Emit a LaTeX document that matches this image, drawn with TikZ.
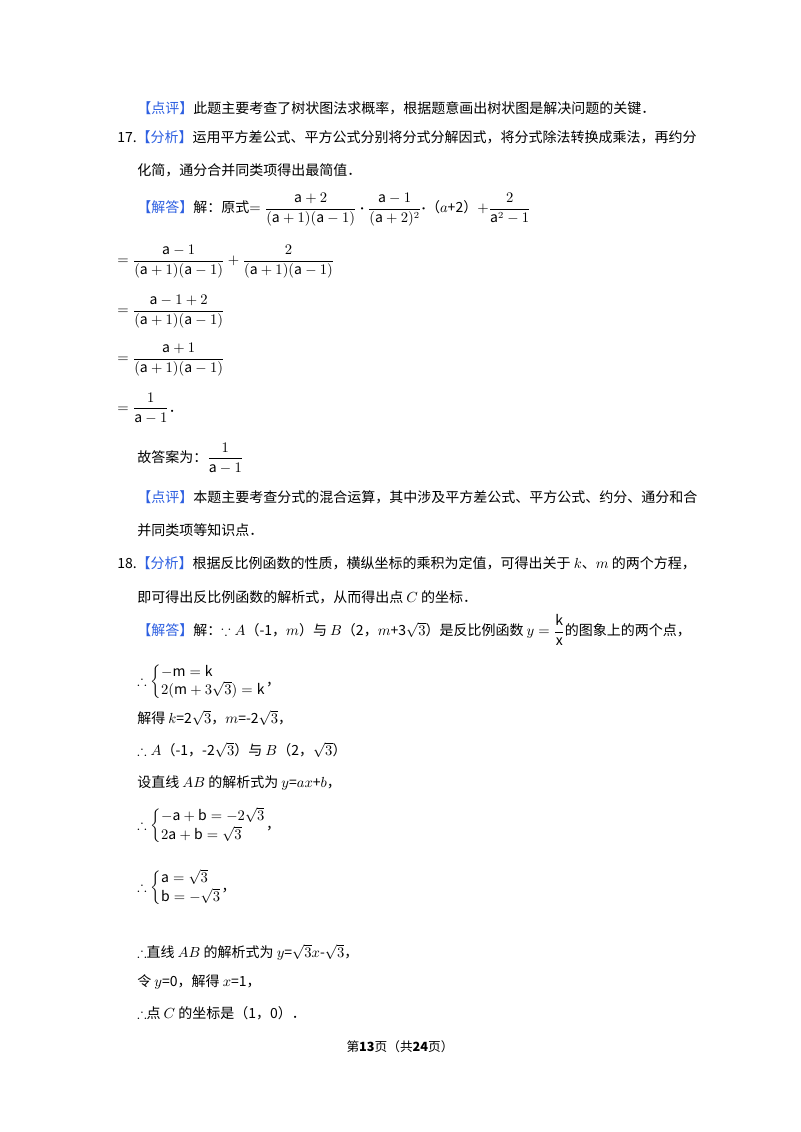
\documentclass[tikz,border=0pt]{standalone}
\usepackage{amsmath,amssymb}
\usepackage{fontspec}
\setmainfont{Noto Sans CJK SC}
\definecolor{kb}{RGB}{45,95,225}
\newcommand{\tg}[1]{\textcolor{kb}{【#1】}}
\newcommand{\ma}{\mathrm{a}}
\newcommand{\sys}[2]{\left\{\begin{array}{@{}l@{}}#1\\ #2\end{array}\right.}
\begin{document}
\begin{tikzpicture}[x=0.75pt,y=-0.75pt,
  ln/.style={anchor=west,inner sep=0pt,font=\fontsize{10.5}{13}\selectfont}]
\useasboundingbox[fill=white] (0,0) rectangle (800,1132);
\node[ln] (l1) at (137,108) {\tg{点评}此题主要考查了树状图法求概率，根据题意画出树状图是解决问题的关键．};
\node[ln] (l2) at (117,137) {17.\tg{分析}运用平方差公式、平方公式分别将分式分解因式，将分式除法转换成乘法，再约分};
\node[ln] (l3) at (137,170) {化简，通分合并同类项得出最简值．};
\node[ln] (l4) at (137,210) {\tg{解答}解：原式$=\dfrac{\ma+2}{(\ma+1)(\ma-1)}\boldsymbol{\cdot}\dfrac{\ma-1}{(\ma+2)^2}\boldsymbol{\cdot}$（$a$+2）$+\dfrac{2}{\ma^2-1}$};
\node[ln] (l5) at (117,262) {$=\dfrac{\ma-1}{(\ma+1)(\ma-1)}+\dfrac{2}{(\ma+1)(\ma-1)}$};
\node[ln] (l6) at (117,312) {$=\dfrac{\ma-1+2}{(\ma+1)(\ma-1)}$};
\node[ln] (l7) at (117,360) {$=\dfrac{\ma+1}{(\ma+1)(\ma-1)}$};
\node[ln] (l8) at (117,408) {$=\dfrac{1}{\ma-1}$．};
\node[ln] (l9) at (137,458) {故答案为：$\dfrac{1}{\ma-1}$};
\node[ln] (l10) at (137,497) {\tg{点评}本题主要考查分式的混合运算，其中涉及平方差公式、平方公式、约分、通分和合};
\node[ln] (l11) at (137,530) {并同类项等知识点．};
\node[ln] (l12) at (117,563) {18.\tg{分析}根据反比例函数的性质，横纵坐标的乘积为定值，可得出关于 $k$、$m$ 的两个方程，};
\node[ln] (l13) at (137,597) {即可得出反比例函数的解析式，从而得出点 $C$ 的坐标．};
\node[ln] (l14) at (137,630) {\tg{解答}解：$\because A$（-1，$m$）与 $B$（2，$m$+3$\sqrt{3}$）是反比例函数 $y=\dfrac{\mathrm{k}}{\mathrm{x}}$的图象上的两个点，};
\node[ln] (l15) at (137,682) {$\therefore\sys{-\mathrm{m}=\mathrm{k}}{2(\mathrm{m}+3\sqrt{3})=\mathrm{k}}$，};
\node[ln] (l16) at (137,718) {解得 $k$=2$\sqrt{3}$，$m$=-2$\sqrt{3}$，};
\node[ln] (l17) at (137,750) {$\therefore A$（-1，-2$\sqrt{3}$）与 $B$（2，$\sqrt{3}$）};
\node[ln] (l18) at (137,783) {设直线 $AB$ 的解析式为 $y$=$ax$+$b$，};
\node[ln] (l19) at (137,826) {$\therefore\sys{-\ma+\mathrm{b}=-2\sqrt{3}}{2\ma+\mathrm{b}=\sqrt{3}}$，};
\node[ln] (l20) at (137,888) {$\therefore\sys{\ma=\sqrt{3}}{\mathrm{b}=-\sqrt{3}}$，};
\node[ln] (l21) at (137,952) {$\therefore$直线 $AB$ 的解析式为 $y$=$\sqrt{3}x$-$\sqrt{3}$，};
\node[ln] (l22) at (137,982) {令 $y$=0，解得 $x$=1，};
\node[ln] (l23) at (137,1013) {$\therefore$点 $C$ 的坐标是（1，0）．};
\node[anchor=center,inner sep=0pt,font=\fontsize{9.5}{12}\selectfont] (ft) at (400,1047) {第\textbf{13}页（共\textbf{24}页）};
\end{tikzpicture}
\end{document}
